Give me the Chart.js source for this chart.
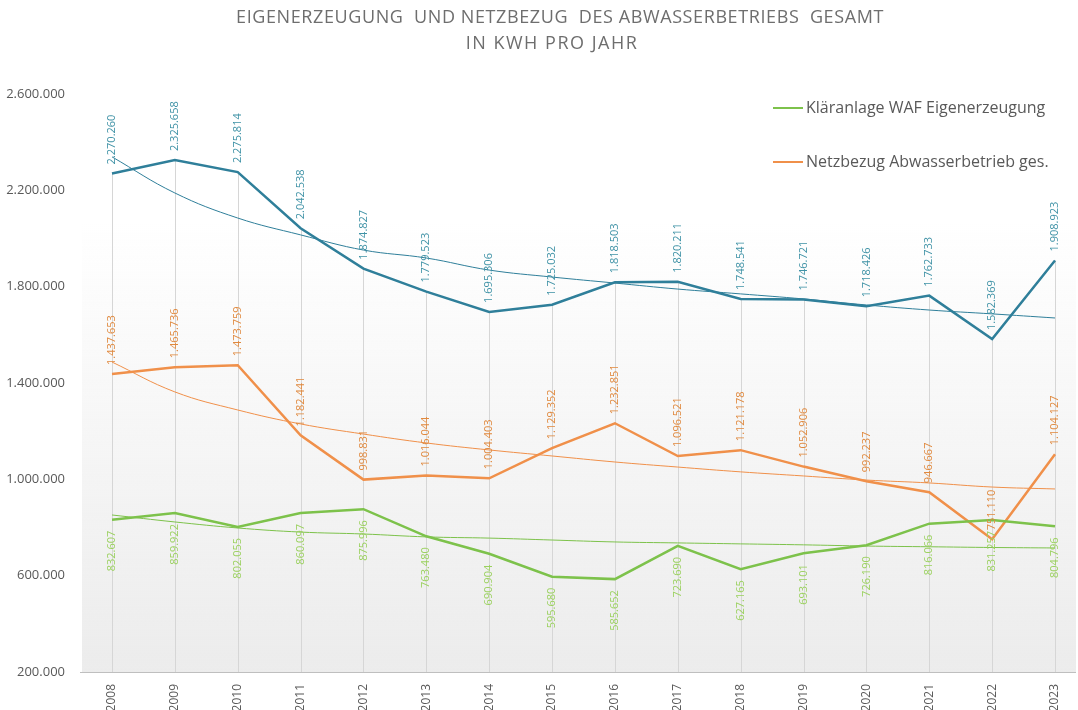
<!DOCTYPE html>
<html>
<head>
<meta charset="utf-8">
<script src="https://cdn.jsdelivr.net/npm/chart.js@4/dist/chart.umd.min.js"></script>
<style>
  html, body { margin: 0; padding: 0; background: #fff; }
</style>
</head>
<body>
<canvas id="grafico" width="1078" height="710"></canvas>
<script>
// dati
var jahre = ['2008', '2009', '2010', '2011', '2012', '2013', '2014', '2015', '2016', '2017', '2018', '2019', '2020', '2021', '2022', '2023'];
var eigenerzeugung = [832607, 859922, 802055, 860097, 875996, 763480, 690904, 595680, 585652, 723690, 627165, 693101, 726190, 816066, 831257, 804796];
var netzbezug = [1437653, 1465736, 1473759, 1182441, 998831, 1016044, 1004403, 1129352, 1232851, 1096521, 1121178, 1052906, 992237, 946667, 751110, 1104127];
var gesamt = [2270260, 2325658, 2275814, 2042538, 1874827, 1779523, 1695306, 1725032, 1818503, 1820211, 1748541, 1746721, 1718426, 1762733, 1582369, 1908923];
// trendlinien
var trendEigen = [852000, 823000, 798000, 781000, 773000, 761000, 756000, 748000, 740000, 736000, 732000, 728000, 723000, 720000, 717000, 715000];
var trendNetz = [1487000, 1363000, 1288000, 1230000, 1188000, 1151000, 1122000, 1097000, 1072000, 1051000, 1031000, 1014000, 997000, 985000, 968000, 960000];
var trendGesamt = [2339000, 2189000, 2085000, 2015000, 1952000, 1919000, 1869000, 1840000, 1815000, 1790000, 1770000, 1749000, 1724000, 1703000, 1687000, 1670000];
var yMin = 200000, yMax = 2600000, yStep = 400000;

var titel = ['EIGENERZEUGUNG  UND NETZBEZUG  DES ABWASSERBETRIEBS  GESAMT', 'IN KWH PRO JAHR'];
var labelEigen = 'Kläranlage WAF Eigenerzeugung';
var labelNetz = 'Netzbezug Abwasserbetrieb ges.';

var grün = '#7dc24b', grünText = '#9bd15f';
var orange = '#f0904a', orangeText = '#e0893e';
var blau = '#2f7f9a', blauText = '#3f92a6';
var schrift = "'Open Sans', 'DejaVu Sans', sans-serif";

function punkt(n) {
  return n.toString().replace(/\B(?=(\d{3})+(?!\d))/g, '.');
}

// titolo (con spaziatura lettere)
var titolo = {
  id: 'titolo',
  afterDraw: function(chart) {
    var ctx = chart.ctx;
    ctx.save();
    ctx.font = '18px ' + schrift;
    ctx.fillStyle = '#6e6e6e';
    ctx.textAlign = 'center';
    ctx.textBaseline = 'middle';
    ctx.letterSpacing = '0.6px';
    ctx.fillText(titel[0], 560, 18);
    ctx.letterSpacing = '1.5px';
    ctx.fillText(titel[1], 552, 44);
    ctx.restore();
  }
};

// sfondo sfumato + linee verticali
var sfondo = {
  id: 'sfondo',
  beforeDatasetsDraw: function(chart) {
    var ctx = chart.ctx, a = chart.chartArea;
    ctx.save();
    var g = ctx.createLinearGradient(0, 220, 0, a.bottom);
    g.addColorStop(0, 'rgba(236,236,236,0)');
    g.addColorStop(1, 'rgba(236,236,236,1)');
    ctx.fillStyle = g;
    ctx.fillRect(82, 220, 994, a.bottom - 220);
    // drop lines
    ctx.strokeStyle = '#d6d6d6';
    ctx.lineWidth = 1;
    var metas = [0, 1, 2].map(function(i) { return chart.getDatasetMeta(i); });
    for (var i = 0; i < jahre.length; i++) {
      var top = Math.min(metas[0].data[i].y, metas[1].data[i].y, metas[2].data[i].y);
      var x = Math.round(metas[0].data[i].x) + 0.5;
      ctx.beginPath();
      ctx.moveTo(x, top);
      ctx.lineTo(x, a.bottom);
      ctx.stroke();
    }
    ctx.strokeStyle = '#bfbfbf';
    ctx.beginPath();
    ctx.moveTo(80, a.bottom + 0.5);
    ctx.lineTo(1076, a.bottom + 0.5);
    ctx.stroke();
    ctx.restore();
  }
};

// etichette dei valori, ruotate
var etichette = {
  id: 'etichette',
  afterDatasetsDraw: function(chart) {
    var ctx = chart.ctx;
    var cfg = [
      { i: 0, col: grünText, sotto: true },
      { i: 1, col: orangeText, sotto: false },
      { i: 2, col: blauText, sotto: false }
    ];
    ctx.save();
    ctx.font = '11px ' + schrift;
    ctx.textBaseline = 'middle';
    cfg.forEach(function(c) {
      var meta = chart.getDatasetMeta(c.i);
      var dati = chart.data.datasets[c.i].data;
      ctx.fillStyle = c.col;
      meta.data.forEach(function(p, k) {
        ctx.save();
        ctx.translate(p.x, p.y);
        ctx.rotate(-Math.PI / 2);
        if (c.sotto) {
          ctx.textAlign = 'right';
          ctx.fillText(punkt(dati[k]), -11, 0);
        } else {
          ctx.textAlign = 'left';
          ctx.fillText(punkt(dati[k]), 9, 0);
        }
        ctx.restore();
      });
    });
    ctx.restore();
  }
};

// legenda
var legenda = {
  id: 'legenda',
  afterDraw: function(chart) {
    var ctx = chart.ctx;
    var voci = [
      { testo: labelEigen, col: grün, y: 108 },
      { testo: labelNetz, col: orange, y: 162 }
    ];
    ctx.save();
    ctx.font = '16px ' + schrift;
    ctx.textBaseline = 'middle';
    ctx.textAlign = 'left';
    voci.forEach(function(v) {
      ctx.strokeStyle = v.col;
      ctx.lineWidth = 2;
      ctx.beginPath();
      ctx.moveTo(773, v.y);
      ctx.lineTo(803, v.y);
      ctx.stroke();
      ctx.fillStyle = '#595959';
      ctx.fillText(v.testo, 806, v.y);
    });
    ctx.restore();
  }
};

function linea(label, data, col, w) {
  return {
    label: label,
    data: data,
    borderColor: col,
    backgroundColor: col,
    borderWidth: w,
    pointRadius: 0,
    fill: false,
    tension: w < 2 ? 0.4 : 0
  };
}

var grafico = new Chart(document.getElementById('grafico'), {
  type: 'line',
  data: {
    labels: jahre,
    datasets: [
      linea(labelEigen, eigenerzeugung, grün, 2.5),
      linea(labelNetz, netzbezug, orange, 2.5),
      linea('Gesamt', gesamt, blau, 2.5),
      linea('Trend Eigen', trendEigen, grün, 1),
      linea('Trend Netz', trendNetz, orange, 1),
      linea('Trend Gesamt', trendGesamt, blau, 1)
    ]
  },
  options: {
    responsive: false,
    animation: false,
    layout: { padding: { left: 0, right: 23, top: 94, bottom: 0 } },
    plugins: {
      legend: { display: false },
      tooltip: { enabled: false },
      title: { display: false }
    },
    scales: {
      x: {
        offset: false,
        grid: { display: false },
        border: { display: false },
        ticks: {
          color: '#595959',
          font: { family: schrift, size: 12 },
          minRotation: 90,
          maxRotation: 90,
          padding: 4
        },
        afterFit: function(scale) { scale.height = 38; }
      },
      y: {
        min: yMin,
        max: yMax,
        grid: { display: false },
        border: { display: false },
        ticks: {
          stepSize: yStep,
          color: '#595959',
          font: { family: schrift, size: 13 },
          padding: 39,
          callback: function(v) { return punkt(v); }
        },
        afterFit: function(scale) {
          scale.width = 112;
          // il padding dei tick non deve spostare l'area del grafico
          scale.paddingTop = 8;
          scale.paddingBottom = 8;
        }
      }
    }
  },
  plugins: [sfondo, etichette, legenda, titolo]
});
</script>
</body>
</html>
